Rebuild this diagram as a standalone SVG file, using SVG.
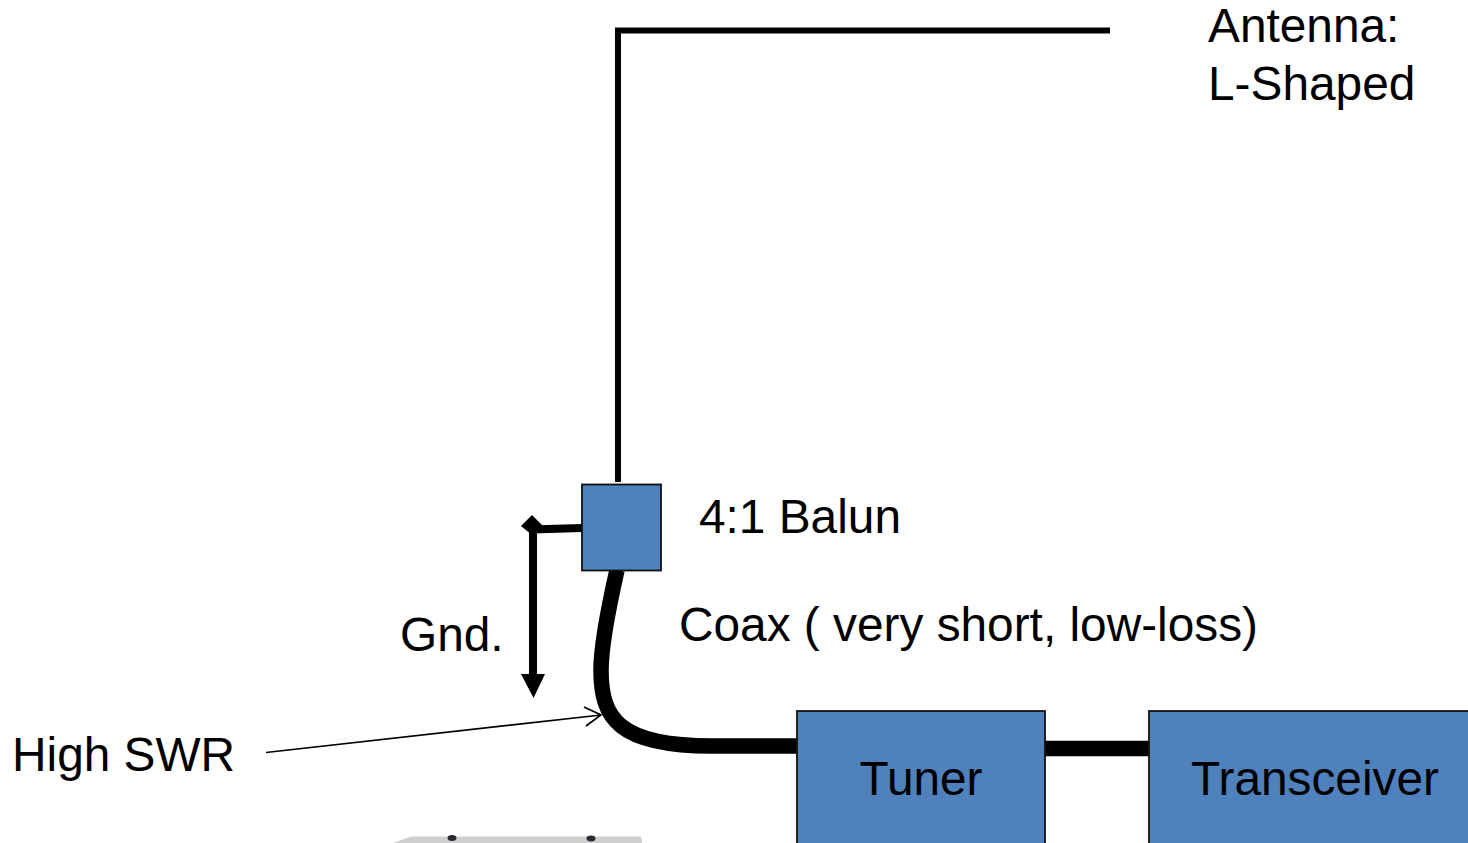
<svg xmlns="http://www.w3.org/2000/svg" width="1468" height="843" viewBox="0 0 1468 843">
<style>
text{font-family:"Liberation Sans",Arial,sans-serif;font-size:47.800px;fill:#000}
.box{fill:#4f81bd;stroke:#111;stroke-width:1.800}
.w{fill:none;stroke:#000}
</style>
<rect width="1468" height="843" fill="#fff"/>
<g id="base-plate">
<path d="M393 843L411 836.500H641L642 843Z" fill="#cfcfd2"/>
<ellipse cx="452" cy="838" rx="4.500" ry="3" fill="#2a2a33"/>
<ellipse cx="591" cy="838.500" rx="4.500" ry="3" fill="#2a2a33"/>
</g>
<g id="connectors">
<path class="w" stroke-width="6" d="M1110 30.500H618V482"/>
<path class="w" stroke-width="8" d="M582 528L533 529.500V678"/>
<path d="M532 515L543 526L532 535L521 526Z"/>
<path d="M521 674H545L533.500 698Z"/>
<path class="w" stroke-width="15.500" d="M617 570C608 610 601 645 601 670C601 718 618 746 712 746H797"/>
<path class="w" stroke-width="15.500" d="M1045 748.500H1149"/>
<path class="w" stroke-width="1.700" d="M266 752.500L601 715M584 707L601 715L586 726"/>
</g>
<g id="balun"><rect class="box" x="582" y="484.500" width="79" height="86"/></g>
<g id="tuner"><rect class="box" x="797" y="711" width="248" height="140"/><text x="921" y="795" text-anchor="middle">Tuner</text></g>
<g id="transceiver"><rect class="box" x="1149" y="711" width="330" height="140"/><text x="1315" y="795" text-anchor="middle">Transceiver</text></g>
<g id="labels">
<text x="1208" y="41.500">Antenna:</text>
<text x="1208" y="100">L-Shaped</text>
<text x="699" y="533">4:1 Balun</text>
<text x="679" y="641">Coax ( very short, low-loss)</text>
<text x="400" y="651">Gnd.</text>
<text x="12" y="771">High SWR</text>
</g>
</svg>
